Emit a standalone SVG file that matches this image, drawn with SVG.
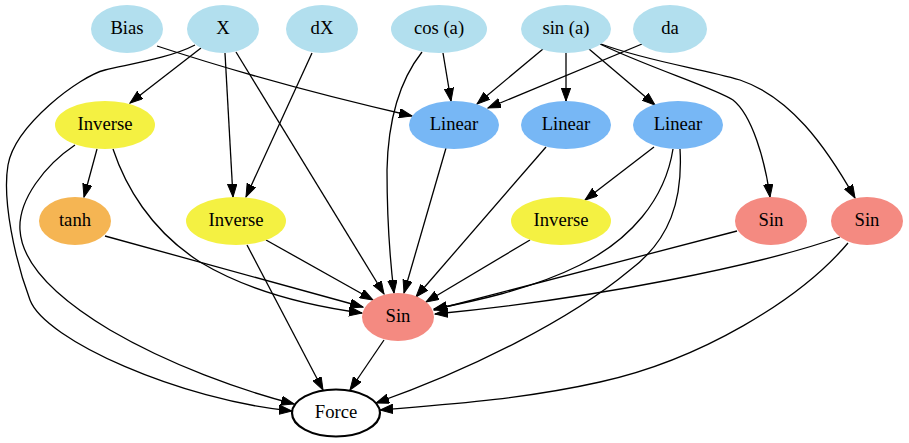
<svg xmlns="http://www.w3.org/2000/svg" width="909" height="443" viewBox="0 0 909 443">
<style>
.n{stroke:none}
.in{fill:#b2dfee}
.lin{fill:#77b7f5}
.inv{fill:#f4f142}
.th{fill:#f5b553}
.sin{fill:#f48a81}
.f{fill:#ffffff;stroke:#000;stroke-width:2.2}
.t{font-family:'Liberation Serif','Times New Roman',serif;font-size:18.67px;text-anchor:middle;fill:#000}
.e path{fill:none;stroke:#000;stroke-width:1.3;marker-end:url(#ah)}
</style>
<defs>
<marker id="ah" markerUnits="userSpaceOnUse" markerWidth="14" markerHeight="10" refX="13" refY="4.7" orient="auto">
<path d="M0,0 L13,4.7 L0,9.4 z" fill="#000" stroke="#000" stroke-width="1"/>
</marker>
</defs>
<rect width="909" height="443" fill="#fff"/>
<g class="e" id="edges">
<path d="M157,46 C230,70 320,95 412,116"/>
<path d="M195,45 C170,58 130,64 105,70 C80,76 15,125 8,165 C2,200 15,260 30,300 C45,340 180,400 292,411"/>
<path d="M201,48 L130,103"/>
<path d="M225,53 L233,197"/>
<path d="M236,52 L384,294"/>
<path d="M312,53 L246,197"/>
<path d="M422,52 C400,80 388,120 387,170 C387,220 390,260 394,293"/>
<path d="M443,53 L451,101"/>
<path d="M543,49 L477,104"/>
<path d="M566,53 L566,101"/>
<path d="M589,49 L655,105"/>
<path d="M600,44 C650,68 715,88 733,100 C752,115 765,160 770,197"/>
<path d="M601,44 C650,62 700,68 740,80 C790,97 825,145 855,198"/>
<path d="M642,44 L488,108"/>
<path d="M97,149 L84,197"/>
<path d="M75,145 C45,165 18,200 20,230 C22,265 60,300 110,330 C170,365 240,390 294,404"/>
<path d="M113,149 C125,185 150,230 200,262 C250,292 310,306 362,313"/>
<path d="M446,148 L404,293"/>
<path d="M546,147 L416,297"/>
<path d="M654,147 L585,200"/>
<path d="M673,149 C665,200 630,240 580,265 C530,290 470,302 434,309"/>
<path d="M680,149 C683,200 670,240 630,270 C570,320 470,370 376,403"/>
<path d="M105,236 L363,307"/>
<path d="M266,240 L373,300"/>
<path d="M247,245 L323,390"/>
<path d="M530,240 L426,302"/>
<path d="M737,231 L434,310"/>
<path d="M840,237 C760,265 600,298 435,314"/>
<path d="M848,243 C800,300 700,360 600,382 C520,400 440,405 380,410"/>
<path d="M384,340 L350,390"/>
</g>
<g id="n_bias"><ellipse class="n in" cx="127" cy="29" rx="36" ry="24"/><text class="t" x="127" y="34">Bias</text></g>
<g id="n_x"><ellipse class="n in" cx="223" cy="29" rx="36" ry="24"/><text class="t" x="223" y="34">X</text></g>
<g id="n_dx"><ellipse class="n in" cx="322" cy="29" rx="36" ry="24"/><text class="t" x="322" y="34">dX</text></g>
<g id="n_cos"><ellipse class="n in" cx="439" cy="29" rx="48" ry="24"/><text class="t" x="439" y="34">cos (a)</text></g>
<g id="n_sin_a"><ellipse class="n in" cx="566" cy="29" rx="45" ry="24"/><text class="t" x="566" y="34">sin (a)</text></g>
<g id="n_da"><ellipse class="n in" cx="670" cy="29" rx="37" ry="24"/><text class="t" x="670" y="34">da</text></g>
<g id="n_inv1"><ellipse class="n inv" cx="105" cy="125" rx="50" ry="24"/><text class="t" x="105" y="130">Inverse</text></g>
<g id="n_lin1"><ellipse class="n lin" cx="454" cy="125" rx="45" ry="24"/><text class="t" x="454" y="130">Linear</text></g>
<g id="n_lin2"><ellipse class="n lin" cx="566" cy="125" rx="45" ry="24"/><text class="t" x="566" y="130">Linear</text></g>
<g id="n_lin3"><ellipse class="n lin" cx="678" cy="125" rx="45" ry="24"/><text class="t" x="678" y="130">Linear</text></g>
<g id="n_tanh"><ellipse class="n th" cx="75" cy="221" rx="36" ry="24"/><text class="t" x="75" y="226">tanh</text></g>
<g id="n_inv2"><ellipse class="n inv" cx="236" cy="221" rx="50" ry="24"/><text class="t" x="236" y="226">Inverse</text></g>
<g id="n_inv3"><ellipse class="n inv" cx="561" cy="221" rx="50" ry="24"/><text class="t" x="561" y="226">Inverse</text></g>
<g id="n_sin1"><ellipse class="n sin" cx="771" cy="221" rx="36" ry="24"/><text class="t" x="771" y="226">Sin</text></g>
<g id="n_sin2"><ellipse class="n sin" cx="867" cy="221" rx="36" ry="24"/><text class="t" x="867" y="226">Sin</text></g>
<g id="n_sinc"><ellipse class="n sin" cx="398" cy="317" rx="36" ry="24"/><text class="t" x="398" y="322">Sin</text></g>
<g id="n_force"><ellipse class="f" cx="336" cy="413" rx="44" ry="23.5"/><text class="t" x="336" y="418">Force</text></g>
</svg>
